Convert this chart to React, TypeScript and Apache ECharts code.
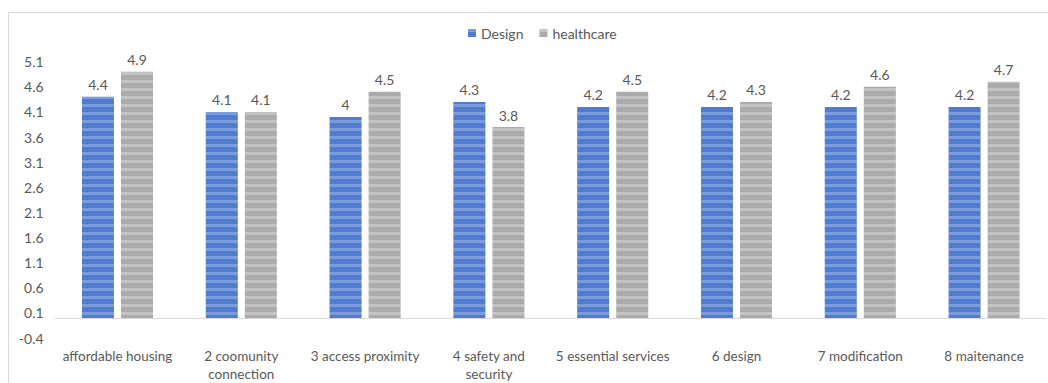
import React, { useEffect, useRef } from "react";
import * as echarts from "echarts";

const categories = [
  "affordable housing",
  "2 coomunity\nconnection",
  "3 access proximity",
  "4 safety and\nsecurity",
  "5 essential services",
  "6 design",
  "7 modification",
  "8 maitenance",
];
const designValues = [4.4, 4.1, 4.0, 4.3, 4.2, 4.2, 4.2, 4.2];
const healthcareValues = [4.9, 4.1, 4.5, 3.8, 4.5, 4.3, 4.6, 4.7];
const yTickLabels = [-0.4, 0.1, 0.6, 1.1, 1.6, 2.1, 2.6, 3.1, 3.6, 4.1, 4.6, 5.1];

const FONT = "Lato, 'Open Sans', sans-serif";
const TEXT = "#595959";

export default function App() {
  const ref = useRef<HTMLDivElement>(null);
  useEffect(() => {
    document.body.style.margin = "0";
    document.body.style.overflow = "hidden";
    const chart = echarts.init(ref.current!, null, { renderer: "svg" });
    const stripe = (color: string) => ({
      symbol: "rect",
      symbolSize: 1,
      dashArrayX: [1, 0],
      dashArrayY: [3, 5],
      rotation: 0,
      color,
    });
    const label = {
      show: true,
      position: "top",
      distance: 5,
      color: TEXT,
      fontSize: 14,
      fontFamily: FONT,
    };
    chart.setOption({
      animation: false,
      backgroundColor: "#ffffff",
      textStyle: { fontFamily: FONT },
      graphic: [
        {
          type: "rect",
          shape: { x: 8.5, y: 12.5, width: 1100, height: 400 },
          style: { fill: "none", stroke: "#D9D9D9", lineWidth: 1 },
          silent: true,
        },
      ],
      legend: {
        left: 463,
        top: 21,
        itemWidth: 8,
        itemHeight: 8,
        itemGap: 16,
        icon: "rect",
        textStyle: { color: TEXT, fontSize: 14, fontFamily: FONT },
        data: ["Design", "healthcare"],
      },
      grid: { left: 55.6, right: 2, top: 61.7, bottom: 19.2, containLabel: false },
      xAxis: {
        type: "category",
        data: categories,
        axisLine: { onZero: true, lineStyle: { color: "#D9D9D9", width: 1 } },
        axisTick: { show: false },
        axisLabel: {
          color: TEXT,
          fontSize: 13.5,
          fontFamily: FONT,
          margin: 9,
          lineHeight: 18,
          interval: 0,
        },
      },
      yAxis: {
        type: "value",
        min: -0.4,
        max: 5.1,
        splitLine: { show: false },
        axisLine: { show: false },
        axisTick: { show: false },
        axisLabel: {
          customValues: yTickLabels,
          color: TEXT,
          fontSize: 14,
          fontFamily: FONT,
          margin: 12,
          formatter: (v: number) => v.toFixed(1),
        },
      },
      series: [
        {
          name: "Design",
          type: "bar",
          data: designValues,
          barWidth: 32,
          barGap: "22%",
          itemStyle: { color: "#4F7BD0", decal: stripe("rgba(255,255,255,0.25)") },
          label,
        },
        {
          name: "healthcare",
          type: "bar",
          data: healthcareValues,
          barWidth: 32,
          itemStyle: { color: "#ABABAB", decal: stripe("rgba(255,255,255,0.3)") },
          label,
        },
      ],
    });
    return () => chart.dispose();
  }, []);
  return <div ref={ref} style={{ width: 1048, height: 383 }} />;
}
